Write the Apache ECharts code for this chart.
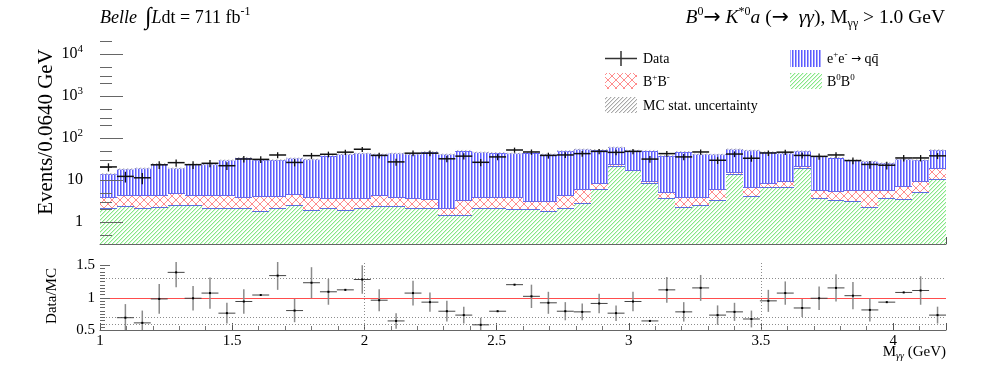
<!DOCTYPE html>
<html>
<head>
<meta charset="utf-8">
<script src="https://cdn.jsdelivr.net/npm/echarts@6/dist/echarts.min.js"></script>
<style>
html, body { margin: 0; padding: 0; background: #fff; }
#chart { width: 997px; height: 368px; }
</style>
</head>
<body>
<div id="chart"></div>
<script>
// binning of M_gg : 50 bins of 0.064 GeV starting at 1.0 GeV
var binStart = 1.0;
var binWidth = 0.064;

// MC components, events per bin (stack order: B0B0, B+B-, qq)
var B0B0 = [2.2, 2.4, 2.1, 2.3, 2.5, 2.6, 2.1, 2.2, 2.2, 1.85,
            2.2, 2.5, 1.95, 2.1, 1.95, 2.2, 2.4, 2.4, 2.2, 2.1,
            1.47, 1.5, 2.1, 2.2, 2.0, 2.0, 1.83, 2.2, 2.8, 6.0,
            22.0, 17.3, 8.3, 3.8, 2.3, 2.5, 3.3, 14.2, 4.2, 7.0,
            7.0, 19.0, 3.66, 3.3, 3.1, 2.3, 3.66, 3.5, 5.2, 10.4];
var BpBm = [1.7, 2.1, 2.4, 2.2, 2.3, 1.8, 2.2, 2.2, 1.8, 2.35,
            1.9, 2.1, 1.95, 1.6, 1.85, 1.5, 2.0, 1.5, 1.5, 1.4,
            0.63, 1.9, 1.9, 1.7, 1.9, 1.1, 1.27, 2.2, 3.4, 2.7,
            1.5, 0.4, 1.3, 1.3, 1.7, 1.5, 2.9, 1.0, 2.7, 1.5,
            2.5, 2.0, 2.14, 2.1, 2.7, 3.5, 2.14, 3.8, 4.1, 9.3];
var qqbar = [10.1, 13.7, 14.5, 20.0, 14.2, 19.1, 19.3, 25.1, 30.0, 25.8,
             25.9, 28.4, 27.1, 34.3, 37.2, 39.3, 36.6, 39.1, 37.3, 43.5,
             38.9, 46.6, 41.6, 40.8, 39.1, 41.9, 37.9, 45.1, 47.6, 43.8,
             36.5, 32.8, 40.4, 32.8, 43.3, 37.0, 34.3, 38.8, 43.6, 38.0,
             33.5, 28.0, 30.7, 28.9, 24.2, 22.0, 19.5, 24.0, 20.7, 32.1];
var mcStatErr = [0.6, 0.8, 0.8, 1.0, 0.8, 1.0, 1.0, 1.2, 1.4, 1.2,
                 1.2, 1.3, 1.3, 1.5, 1.6, 1.7, 1.6, 1.7, 1.6, 1.9,
                 1.6, 2.0, 1.8, 1.8, 1.7, 1.8, 1.6, 2.0, 2.1, 2.1,
                 2.4, 2.0, 2.0, 1.5, 1.9, 1.6, 1.6, 2.2, 2.0, 1.9,
                 1.7, 2.0, 1.5, 1.4, 1.2, 1.1, 1.0, 1.3, 1.2, 2.1];

// data
var dataCounts = [20.5, 12.2, 11.3, 23.0, 25.9, 23.2, 25.0, 21.9, 31.6, 31.0,
                  39.4, 26.2, 38.0, 41.0, 46.0, 54.0, 38.5, 27.0, 43.5, 43.5,
                  32.0, 37.0, 26.4, 35.5, 51.8, 46.5, 38.5, 39.5, 42.5, 48.0,
                  45.5, 48.0, 31.5, 42.5, 35.5, 46.5, 29.5, 41.5, 33.0, 44.0,
                  46.0, 38.5, 36.5, 39.5, 29.0, 23.5, 22.5, 33.5, 33.5, 37.6];

// Data/MC ratio panel
var ratio = [null, 0.69, 0.61, 0.98, 1.39, 0.99, 1.07, 0.76, 0.94, 1.04,
             1.34, 0.80, 1.23, 1.09, 1.12, 1.28, 0.96, 0.64, 1.07, 0.93,
             0.79, 0.73, 0.58, 0.79, 1.20, 1.02, 0.92, 0.79, 0.78, 0.91,
             0.76, 0.94, 0.64, 1.12, 0.78, 1.15, 0.73, 0.78, 0.67, 0.95,
             1.07, 0.84, 0.99, 1.15, 1.03, 0.81, 0.93, 1.08, 1.11, 0.73];
var ratioErr = [null, 0.21, 0.19, 0.23, 0.23, 0.19, 0.24, 0.16, 0.19, 0.01,
                0.22, 0.18, 0.24, 0.20, 0.01, 0.22, 0.17, 0.12, 0.19, 0.15,
                0.16, 0.13, 0.11, 0.01, 0.01, 0.18, 0.17, 0.14, 0.13, 0.15,
                0.12, 0.15, 0.01, 0.20, 0.15, 0.20, 0.15, 0.14, 0.13, 0.17,
                0.18, 0.14, 0.18, 0.21, 0.21, 0.18, 0.0, 0.01, 0.22, 0.13];

// axes
var xMin = 1.0, xMax = 4.2;
var yMin = 0.3, yMax = 21500;
var rMin = 0.5, rMax = 1.55;
var logMajorTicks = [1, 10, 100, 1000, 10000];
var logMinorSteps = [2, 3, 5];
var ratioTickLabels = [0.5, 1, 1.5];
var xTickLabels = [1, 1.5, 2, 2.5, 3, 3.5, 4];
var ratioGuideLevels = [1.3, 0.7, 0.6];
var ratioGuideX = [2.0, 3.5];

var serif = '"Liberation Serif", "DejaVu Serif", serif';

function makePattern(w, h, draw) {
    var c = document.createElement('canvas');
    c.width = w; c.height = h;
    var ctx = c.getContext('2d');
    ctx.fillStyle = '#ffffff';
    ctx.fillRect(0, 0, w, h);
    draw(ctx);
    return { image: c, repeat: 'repeat' };
}
var bluePat = makePattern(3, 4, function (ctx) {
    ctx.fillStyle = '#5c5cff'; ctx.fillRect(0, 0, 1, 4);
    ctx.fillStyle = '#a8a8ff'; ctx.fillRect(1, 0, 1, 4);
});
var greenPat = makePattern(4, 4, function (ctx) {
    for (var i = 0; i < 4; i++) {
        ctx.fillStyle = '#86e886'; ctx.fillRect(3 - i, i, 1, 1);
        ctx.fillStyle = '#d4f7d4'; ctx.fillRect((4 - i) % 4, i, 1, 1);
    }
});
var redPat = makePattern(8, 8, function (ctx) {
    ctx.fillStyle = '#ff8c8c';
    for (var i = 0; i < 8; i++) {
        ctx.fillRect(i, i, 1, 1);
        ctx.fillRect(7 - i, i, 1, 1);
    }
});
var grayPat = makePattern(4, 4, function (ctx) {
    for (var i = 0; i < 4; i++) {
        ctx.fillStyle = '#a8a8a8'; ctx.fillRect(3 - i, i, 1, 1);
        ctx.fillStyle = '#e2e2e2'; ctx.fillRect((4 - i) % 4, i, 1, 1);
    }
});

function binLo(i) { return binStart + i * binWidth; }
function binHi(i) { return binStart + (i + 1) * binWidth; }

// stacked levels
var greenTop = B0B0.slice();
var redTop = B0B0.map(function (v, i) { return v + BpBm[i]; });
var mcTotal = redTop.map(function (v, i) { return v + qqbar[i]; });

function histSeries(name, lows, highs, fill, edge) {
    return {
        type: 'custom', name: name, xAxisIndex: 0, yAxisIndex: 0, silent: true,
        data: highs.map(function (h, i) { return [binLo(i), binHi(i), lows[i], h]; }),
        renderItem: function (params, api) {
            var pTop = api.coord([api.value(0), api.value(3)]);
            var pBot = api.coord([api.value(1), api.value(2)]);
            var x0 = Math.round(pTop[0]), x1 = Math.round(pBot[0]);
            var yt = Math.round(pTop[1]), yb = Math.round(pBot[1]);
            var kids = [{
                type: 'rect',
                shape: { x: x0, y: yt, width: x1 - x0, height: yb - yt },
                style: { fill: fill }
            }];
            if (edge) {
                kids.push({
                    type: 'line',
                    shape: { x1: x0, y1: yt + 0.5, x2: x1, y2: yt + 0.5 },
                    style: { stroke: edge, lineWidth: 1 }
                });
            }
            return { type: 'group', children: kids };
        }
    };
}

function yTickSeries(xi, yi, values, len) {
    return {
        type: 'custom', xAxisIndex: xi, yAxisIndex: yi, silent: true, z: 5,
        data: values.map(function (v) { return [xMin, v]; }),
        renderItem: function (params, api) {
            var p = api.coord([api.value(0), api.value(1)]);
            var y = Math.round(p[1]) + 0.5;
            return {
                type: 'line',
                shape: { x1: p[0], y1: y, x2: p[0] + len, y2: y },
                style: { stroke: '#666', lineWidth: 1 }
            };
        }
    };
}

// straight guide segments in the ratio panel, [x1, y1, x2, y2]
function guideSeries(segments, color, dash) {
    return {
        type: 'custom', xAxisIndex: 1, yAxisIndex: 1, silent: true, z: 3,
        data: segments,
        renderItem: function (params, api) {
            var a = api.coord([api.value(0), api.value(1)]);
            var b = api.coord([api.value(2), api.value(3)]);
            var vertical = Math.abs(a[0] - b[0]) < 0.5;
            var s = {
                x1: vertical ? Math.round(a[0]) + 0.5 : a[0], y1: vertical ? a[1] : Math.round(a[1]) + 0.5,
                x2: vertical ? Math.round(b[0]) + 0.5 : b[0], y2: vertical ? b[1] : Math.round(b[1]) + 0.5
            };
            return { type: 'line', shape: s, style: { stroke: color, lineWidth: 1, lineDash: dash } };
        }
    };
}

var logMinorTicks = [];
[0.1, 1, 10, 100, 1000, 10000].forEach(function (d) {
    logMinorSteps.forEach(function (k) {
        var v = k * d;
        if (v > yMin && v < yMax) logMinorTicks.push(v);
    });
});
var ratioMinorTicks = [];
for (var t = 0.55; t < 1.5; t += 0.05) {
    var tv = Math.round(t * 100) / 100;
    if (Math.abs(tv - 1) > 1e-6) ratioMinorTicks.push(tv);
}

var supRich = {
    n: { fontFamily: serif, fontSize: 16, lineHeight: 20, color: '#000' },
    sup: { fontFamily: serif, fontSize: 11, lineHeight: 10, verticalAlign: 'top', color: '#000' }
};

function titleRich(size) {
    return {
        i: { fontFamily: serif, fontSize: size, fontStyle: 'italic', lineHeight: 24, color: '#000' },
        n: { fontFamily: serif, fontSize: size, lineHeight: 24, color: '#000' },
        ar: { fontFamily: '"DejaVu Sans", sans-serif', fontSize: size + 1, lineHeight: 24, color: '#000' },
        int: { fontFamily: serif, fontSize: 24, lineHeight: 24, color: '#000' },
        sp: { fontSize: size, lineHeight: 24, width: 8 },
        sup: { fontFamily: serif, fontSize: 12, lineHeight: 12, verticalAlign: 'top', color: '#000' },
        sub: { fontFamily: serif, fontSize: 12, lineHeight: 12, verticalAlign: 'bottom', color: '#000' }
    };
}

var legendRich = {
    n: { fontFamily: serif, fontSize: 14, lineHeight: 18, color: '#000' },
    ar: { fontFamily: '"DejaVu Sans", sans-serif', fontSize: 12, lineHeight: 18, color: '#000' },
    sup: { fontFamily: serif, fontSize: 9, lineHeight: 9, verticalAlign: 'top', color: '#000' }
};

var option = {
    animation: false,
    backgroundColor: '#fff',
    grid: [
        { left: 100, right: 51, top: 40, height: 204 },
        { left: 100, right: 51, top: 262, height: 68 }
    ],
    xAxis: [
        {
            type: 'value', gridIndex: 0, min: xMin, max: xMax, interval: 0.5,
            axisLine: { lineStyle: { color: '#666', width: 1 } },
            axisTick: { inside: true, length: 7, lineStyle: { color: '#555' } },
            minorTick: { show: true, splitNumber: 5, length: 4, lineStyle: { color: '#777' } },
            axisLabel: { show: false },
            splitLine: { show: false }
        },
        {
            type: 'value', gridIndex: 1, min: xMin, max: xMax, interval: 0.5,
            axisLine: { lineStyle: { color: '#666', width: 1 } },
            axisTick: { inside: true, length: 7, lineStyle: { color: '#555' } },
            minorTick: { show: true, splitNumber: 5, length: 4, lineStyle: { color: '#777' } },
            axisLabel: {
                customValues: xTickLabels, color: '#000', fontFamily: serif, fontSize: 15, margin: 4,
                formatter: function (v) { return String(v); }
            },
            splitLine: { show: false }
        }
    ],
    yAxis: [
        {
            type: 'log', gridIndex: 0, min: yMin, max: yMax, logBase: 10,
            axisLine: { show: false },
            axisTick: { show: false },
            splitLine: { show: false },
            axisLabel: {
                margin: 17, color: '#000', fontFamily: serif, fontSize: 16,
                formatter: function (v) {
                    var l = Math.log10(v), e = Math.round(l);
                    if (Math.abs(l - e) > 1e-6 || logMajorTicks.indexOf(Math.pow(10, e)) < 0) return '';
                    if (e === 0) return '{n|1}';
                    if (e === 1) return '{n|10}';
                    return '{n|10}{sup|' + e + '}';
                },
                rich: supRich
            }
        },
        {
            type: 'value', gridIndex: 1, min: rMin, max: rMax,
            axisLine: { show: false },
            axisTick: { show: false },
            splitLine: { show: false },
            axisLabel: {
                customValues: ratioTickLabels, margin: 5, color: '#000', fontFamily: serif, fontSize: 15,
                formatter: function (v) { return String(v); }
            }
        }
    ],
    series: [
        histSeries('B0B0', B0B0.map(function () { return yMin; }), greenTop, greenPat, '#5a6ee0'),
        histSeries('B+B-', greenTop, redTop, redPat, '#6a6ae8'),
        histSeries('qq', redTop, mcTotal, bluePat, '#3a3aff'),
        {
            type: 'custom', name: 'MC stat', xAxisIndex: 0, yAxisIndex: 0, silent: true,
            data: mcTotal.map(function (v, i) { return [binLo(i), binHi(i), v - mcStatErr[i], v + mcStatErr[i]]; }),
            renderItem: function (params, api) {
                var a = api.coord([api.value(0), api.value(3)]);
                var b = api.coord([api.value(1), api.value(2)]);
                return {
                    type: 'rect',
                    shape: { x: Math.round(a[0]), y: a[1], width: Math.round(b[0]) - Math.round(a[0]), height: b[1] - a[1] },
                    style: { fill: grayPat, opacity: 0.8 }
                };
            }
        },
        yTickSeries(0, 0, logMajorTicks, 23),
        yTickSeries(0, 0, logMinorTicks, 12),
        {
            type: 'custom', name: 'Data', xAxisIndex: 0, yAxisIndex: 0, silent: true, z: 6,
            data: dataCounts.map(function (v, i) { return [binLo(i), binHi(i), v, Math.sqrt(v)]; }),
            renderItem: function (params, api) {
                var v = api.value(2), e = api.value(3);
                var xl = api.value(0), xh = api.value(1), xc = (xl + xh) / 2;
                var pl = api.coord([xl, v]), ph = api.coord([xh, v]);
                var pu = api.coord([xc, v + e]), pd = api.coord([xc, Math.max(v - e, yMin)]);
                return {
                    type: 'group', children: [
                        { type: 'line', shape: { x1: pl[0], y1: pl[1], x2: ph[0], y2: ph[1] }, style: { stroke: '#111', lineWidth: 1.5 } },
                        { type: 'line', shape: { x1: pu[0], y1: pu[1], x2: pd[0], y2: pd[1] }, style: { stroke: '#111', lineWidth: 1.3 } }
                    ]
                };
            }
        },
        // ratio panel guides
        guideSeries(ratioGuideLevels.map(function (lv) { return [xMin, lv, xMax, lv]; })
            .concat(ratioGuideX.map(function (gx) { return [gx, rMin, gx, rMax]; })), '#8c8c8c', [1, 2]),
        guideSeries([[xMin, 1, xMax, 1]], '#ff4d4d', null),
        yTickSeries(1, 1, ratioTickLabels, 10),
        yTickSeries(1, 1, ratioMinorTicks, 5),
        {
            type: 'custom', name: 'Data/MC', xAxisIndex: 1, yAxisIndex: 1, silent: true, z: 6,
            data: ratio.map(function (r, i) { return [binLo(i), binHi(i), r, ratioErr[i]]; })
                       .filter(function (d) { return d[2] !== null; }),
            renderItem: function (params, api) {
                var r = api.value(2), e = api.value(3);
                var xl = api.value(0), xh = api.value(1), xc = (xl + xh) / 2;
                var pl = api.coord([xl, r]), ph = api.coord([xh, r]);
                var pu = api.coord([xc, Math.min(r + e, rMax)]), pd = api.coord([xc, Math.max(r - e, rMin)]);
                return {
                    type: 'group', children: [
                        { type: 'line', shape: { x1: pu[0], y1: pu[1], x2: pd[0], y2: pd[1] }, style: { stroke: '#8a8a8a', lineWidth: 1.5 } },
                        { type: 'line', shape: { x1: pl[0], y1: pl[1], x2: ph[0], y2: ph[1] }, style: { stroke: '#444', lineWidth: 1 } },
                        { type: 'rect', shape: { x: (pl[0] + ph[0]) / 2 - 1, y: pl[1] - 1, width: 2, height: 2 }, style: { fill: '#000' } }
                    ]
                };
            }
        }
    ],
    graphic: [
        {
            type: 'text', left: 100, top: 6,
            style: { text: '{i|Belle}{sp| }{int|∫}{i|L}{n|dt = 711 fb}{sup|-1}', rich: titleRich(18) }
        },
        {
            type: 'text', right: 52, top: 6,
            style: {
                text: '{i|B}{sup|0}{ar|→}{n| }{i|K}{sup|*0}{i|a}{n| (}{ar|→}{n|  }{i|γγ}{n|), M}{sub|γγ}{n| > 1.0 GeV}',
                rich: titleRich(19.5)
            }
        },
        {
            type: 'text', x: 46, y: 132, rotation: Math.PI / 2,
            style: { text: 'Events/0.0640 GeV', fontFamily: serif, fontSize: 21, fill: '#000', textAlign: 'center', textVerticalAlign: 'middle' }
        },
        {
            type: 'text', x: 52, y: 296, rotation: Math.PI / 2,
            style: { text: 'Data/MC', fontFamily: serif, fontSize: 15, fill: '#000', textAlign: 'center', textVerticalAlign: 'middle' }
        },
        {
            type: 'text', right: 51, top: 345,
            style: {
                text: '{n|M}{sub|γγ}{n| (GeV)}',
                rich: {
                    n: { fontFamily: serif, fontSize: 15, lineHeight: 18, color: '#000' },
                    sub: { fontFamily: serif, fontSize: 10, lineHeight: 10, verticalAlign: 'bottom', fontStyle: 'italic', color: '#000' }
                }
            }
        },
        // legend
        { type: 'line', shape: { x1: 605, y1: 58.5, x2: 637, y2: 58.5 }, style: { stroke: '#333', lineWidth: 1.5 } },
        { type: 'line', shape: { x1: 621, y1: 51, x2: 621, y2: 66 }, style: { stroke: '#333', lineWidth: 1.5 } },
        { type: 'text', x: 643, y: 59, style: { text: 'Data', fontFamily: serif, fontSize: 14, fill: '#000', textVerticalAlign: 'middle' } },
        { type: 'rect', shape: { x: 605, y: 73, width: 32, height: 16 }, style: { fill: redPat } },
        { type: 'text', x: 643, y: 82, style: { text: '{n|B}{sup|+}{n|B}{sup|-}', textVerticalAlign: 'middle', rich: legendRich } },
        { type: 'rect', shape: { x: 605, y: 97, width: 32, height: 16 }, style: { fill: grayPat } },
        { type: 'text', x: 643, y: 106, style: { text: 'MC stat. uncertainty', fontFamily: serif, fontSize: 14, fill: '#000', textVerticalAlign: 'middle' } },
        { type: 'rect', shape: { x: 790, y: 50, width: 32, height: 17 }, style: { fill: bluePat } },
        { type: 'text', x: 827, y: 59, style: { text: '{n|e}{sup|+}{n|e}{sup|-}{n| }{ar|→}{n| qq\u0304}', textVerticalAlign: 'middle', rich: legendRich } },
        { type: 'rect', shape: { x: 790, y: 73, width: 32, height: 16 }, style: { fill: greenPat } },
        { type: 'text', x: 827, y: 82, style: { text: '{n|B}{sup|0}{n|B}{sup|0}', textVerticalAlign: 'middle', rich: legendRich } }
    ]
};

var myChart = echarts.init(document.getElementById('chart'));
myChart.setOption(option);
</script>
</body>
</html>
